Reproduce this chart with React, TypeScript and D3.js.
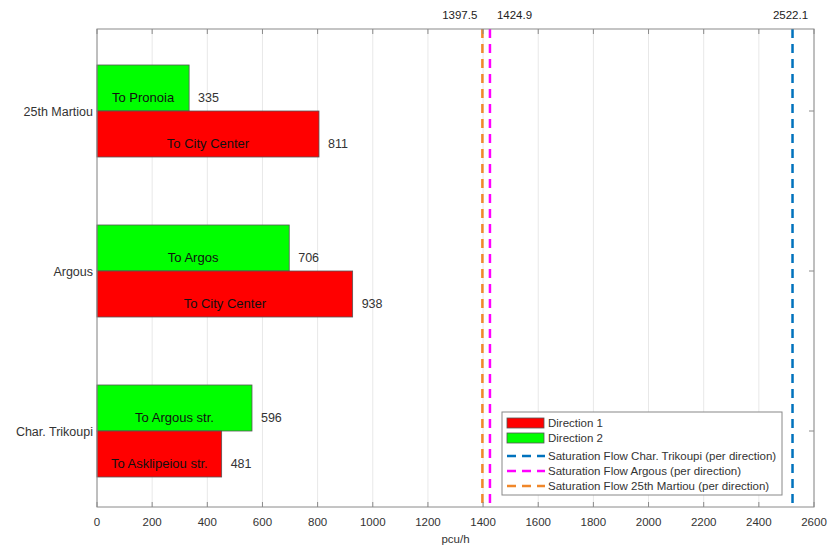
import React from "react";
import * as d3 from "d3";

const categories = ["25th Martiou", "Argous", "Char. Trikoupi"];
// bar lengths as drawn in the picture
const direction1 = [805, 927, 452];
const direction2 = [334, 697, 562];
// numbers printed next to the bars
const direction1Text = ["811", "938", "481"];
const direction2Text = ["335", "706", "596"];
const dir1Labels = ["To City Center", "To City Center", "To Asklipeiou str."];
const dir2Labels = ["To Pronoia", "To Argos", "To Argous str."];
const xTicks = [0, 200, 400, 600, 800, 1000, 1200, 1400, 1600, 1800, 2000, 2200, 2400, 2600];
const satValues = [2522.1, 1424.9, 1397.5];
const satNames = [
  "Saturation Flow Char. Trikoupi (per direction)",
  "Saturation Flow Argous (per direction)",
  "Saturation Flow 25th Martiou (per direction)",
];
const satColors = ["#0072BD", "#FF00FF", "#F0872A"];
const satAnchors = ["middle", "start", "end"];
const xLabel = "pcu/h";

const W = 830;
const H = 546;
const left = 97, right = 814, top = 29, bottom = 507;
const FONT = "'Liberation Sans', Arial, sans-serif";

export default function App() {
  const x = d3.scaleLinear().domain([0, 2600]).range([left, right]);
  const y = d3.scaleLinear().domain([0, 2]).range([111, 431]);
  const barH = 0.2875; // in category units
  const axisColor = "#8a8a8a";

  return (
    <svg width={W} height={H} style={{ position: "absolute", left: 0, top: 0, background: "#fff" }}>
      <rect x={0} y={0} width={W} height={H} fill="#fff" />
      {/* grid */}
      {xTicks.map((t) => (
        <line key={"g" + t} x1={x(t)} x2={x(t)} y1={top} y2={bottom} stroke="#e8e8e8" strokeWidth={1} />
      ))}
      {/* bars */}
      {categories.map((c, i) => {
        const yc = y(i);
        const hpx = y(barH) - y(0);
        return (
          <g key={c}>
            <rect x={x(0)} y={yc - hpx} width={x(direction2[i]) - x(0)} height={hpx} fill="#00FF00" stroke="#555" strokeWidth={0.8} />
            <rect x={x(0)} y={yc} width={x(direction1[i]) - x(0)} height={hpx} fill="#FF0000" stroke="#555" strokeWidth={0.8} />
            <text x={x(direction2[i] / 2)} y={yc - hpx / 2 + 14} textAnchor="middle" fontSize={13} fontFamily={FONT} fill="#111">{dir2Labels[i]}</text>
            <text x={x(direction1[i] / 2)} y={yc + hpx / 2 + 14} textAnchor="middle" fontSize={13} fontFamily={FONT} fill="#111">{dir1Labels[i]}</text>
            <text x={x(direction2[i]) + 9} y={yc - hpx / 2 + 14} fontSize={12.5} fontFamily={FONT} fill="#333">{direction2Text[i]}</text>
            <text x={x(direction1[i]) + 9} y={yc + hpx / 2 + 14} fontSize={12.5} fontFamily={FONT} fill="#333">{direction1Text[i]}</text>
            <text x={left - 4} y={yc + 4.5} textAnchor="end" fontSize={12.5} fontFamily={FONT} fill="#333">{c}</text>
            <line x1={right} x2={right - 5} y1={yc} y2={yc} stroke={axisColor} />
          </g>
        );
      })}
      {/* saturation lines */}
      {satValues.map((v, i) => (
        <g key={"s" + i}>
          <line x1={x(v)} x2={x(v)} y1={top} y2={bottom} stroke={satColors[i]} strokeWidth={2.5} strokeDasharray="9,6" />
          <text
            x={x(v) + (satAnchors[i] === "start" ? 7 : satAnchors[i] === "end" ? -5 : -2)}
            y={19}
            textAnchor={satAnchors[i]}
            fontSize={11.5}
            fontFamily={FONT}
            fill="#222"
          >
            {v.toFixed(1)}
          </text>
        </g>
      ))}
      {/* box */}
      <rect x={left} y={top} width={right - left} height={bottom - top} fill="none" stroke={axisColor} strokeWidth={1} />
      {/* x ticks */}
      {xTicks.map((t) => (
        <g key={"t" + t}>
          <line x1={x(t)} x2={x(t)} y1={bottom} y2={bottom - 5} stroke={axisColor} />
          <line x1={x(t)} x2={x(t)} y1={top} y2={top + 5} stroke={axisColor} />
          <text x={x(t)} y={526} textAnchor="middle" fontSize={11.5} fontFamily={FONT} fill="#333">{t}</text>
        </g>
      ))}
      <text x={(left + right) / 2} y={543} textAnchor="middle" fontSize={11.5} fontFamily={FONT} fill="#333">{xLabel}</text>
      {/* legend */}
      <g>
        <rect x={502} y={412} width={280} height={83} fill="#fff" stroke="#888" strokeWidth={1} />
        {[
          { label: "Direction 1", color: "#FF0000", kind: "rect" },
          { label: "Direction 2", color: "#00FF00", kind: "rect" },
          ...satNames.map((n, i) => ({ label: n, color: satColors[i], kind: "line" })),
        ].map((e, i) => {
          const ys = [423, 438, 456, 471, 486][i];
          return (
            <g key={"l" + i}>
              {e.kind === "rect" ? (
                <rect x={507} y={ys - 5} width={37} height={10} fill={e.color} stroke="#555" strokeWidth={0.8} />
              ) : (
                <line x1={507} x2={545} y1={ys} y2={ys} stroke={e.color} strokeWidth={2.5} strokeDasharray="9,6" />
              )}
              <text x={548} y={ys + 4} fontSize={11.5} fontFamily={FONT} fill="#333">{e.label}</text>
            </g>
          );
        })}
      </g>
    </svg>
  );
}
